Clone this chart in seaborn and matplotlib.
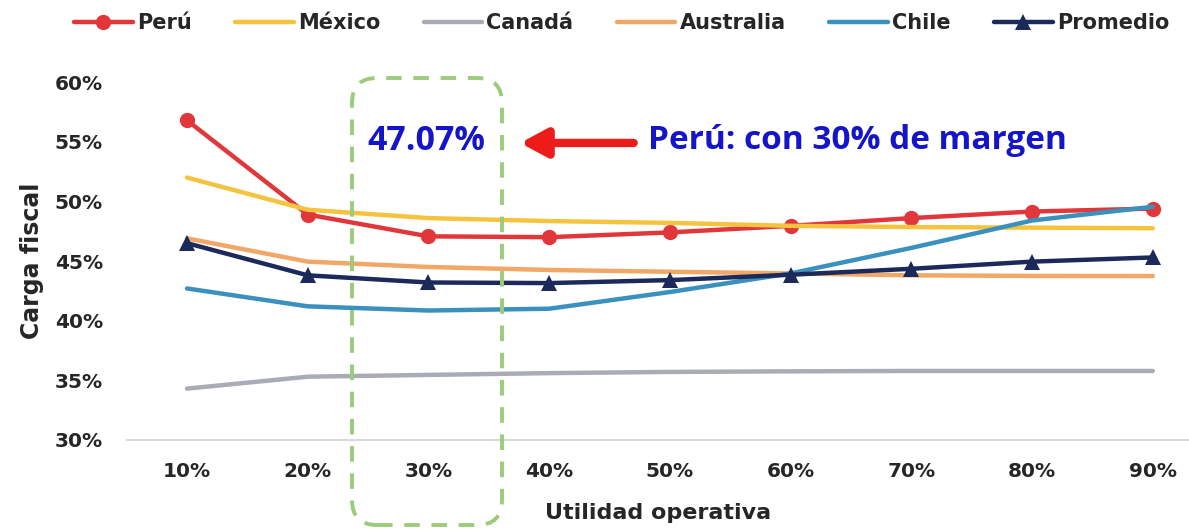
import matplotlib
matplotlib.use("Agg")
import matplotlib.pyplot as plt
import seaborn as sns
import pandas as pd
from matplotlib.patches import FancyBboxPatch

# data (carga fiscal in %, by operating margin)
margenes = ["10%", "20%", "30%", "40%", "50%", "60%", "70%", "80%", "90%"]
peru      = [56.8, 48.9, 47.07, 47.0, 47.4, 47.95, 48.6, 49.15, 49.4]
mexico    = [52.0, 49.3, 48.6, 48.35, 48.2, 47.95, 47.85, 47.8, 47.75]
canada    = [34.3, 35.3, 35.45, 35.6, 35.7, 35.75, 35.78, 35.78, 35.78]
australia = [46.9, 44.95, 44.5, 44.25, 44.1, 43.96, 43.8, 43.75, 43.74]
chile     = [42.7, 41.2, 40.85, 41.0, 42.4, 43.96, 46.1, 48.4, 49.55]
promedio  = [46.5, 43.8, 43.2, 43.15, 43.4, 43.85, 44.35, 44.95, 45.3]

series = [
    ("Perú", peru, "#E2373A", "o"),
    ("México", mexico, "#F6C33F", None),
    ("Canadá", canada, "#A9ACB6", None),
    ("Australia", australia, "#F1A766", None),
    ("Chile", chile, "#3A91BD", None),
    ("Promedio", promedio, "#1B2A5B", "^"),
]
yticks = [30, 35, 40, 45, 50, 55, 60]

sns.set_theme(style="white")
plt.rcParams["font.family"] = ["DejaVu Sans"]

fig = plt.figure(figsize=(11.89, 5.30), dpi=100)
ax = fig.add_axes([0.1065, 0.17, 0.8935, 0.675])

for name, vals, color, marker in series:
    df = pd.DataFrame({"margen": margenes, "carga": vals})
    sns.lineplot(data=df, x="margen", y="carga", color=color, lw=3.2,
                 marker=marker, markersize=11 if marker else 0,
                 markeredgewidth=0, label=name, ax=ax, sort=False)

ax.set_xlim(-0.5, 8.3)
ax.set_ylim(30, 60)
ax.set_yticks(yticks)
ax.set_yticklabels([f"{v}%" for v in yticks])
ax.tick_params(axis="both", length=0, labelsize=14.5, labelcolor="#262626")
ax.tick_params(axis="x", pad=16)
ax.tick_params(axis="y", pad=17)
for lab in ax.get_xticklabels() + ax.get_yticklabels():
    lab.set_fontweight("bold")
for s in ["top", "right", "left"]:
    ax.spines[s].set_visible(False)
ax.spines["bottom"].set_color("#D9D9D9")
ax.spines["bottom"].set_linewidth(1.5)
ax.set_xlabel("Utilidad operativa", fontsize=16, fontweight="bold",
              color="#262626", labelpad=16)
ax.set_ylabel("Carga fiscal", fontsize=17, fontweight="bold",
              color="#262626", labelpad=8)

leg = ax.legend(loc="center", bbox_to_anchor=(0.466, 1.165), ncol=6,
                frameon=False, fontsize=15, handlelength=2.8,
                columnspacing=2.1, handletextpad=0.2)
for t in leg.get_texts():
    t.set_fontweight("bold")
    t.set_color("#262626")

# annotation for Peru at 30%
ax.text(1.98, 55.1, "47.07%", color="#1414C8", fontsize=24.5,
        fontweight="bold", ha="center", va="center", family="Open Sans")
ax.annotate("", xy=(2.76, 54.9), xytext=(3.7, 54.9),
            arrowprops=dict(arrowstyle="-|>,head_length=1.3,head_width=0.7",
                            color="#EE1B1B", lw=6, shrinkA=0, shrinkB=0))
ax.text(3.82, 55.1, "Perú: con 30% de margen", color="#1414C8", fontsize=24,
        fontweight="bold", ha="left", va="center", family="Open Sans")

# dashed green highlight box around the 30% column
box = FancyBboxPatch((3.52, 0.05), 1.5, 4.47,
                     boxstyle="round,pad=0,rounding_size=0.25",
                     transform=fig.dpi_scale_trans, fill=False,
                     edgecolor="#9CCB7C", lw=2.8, linestyle=(0, (4, 3)),
                     clip_on=False)
fig.patches.append(box)

fig.savefig("out.png", dpi=100)
